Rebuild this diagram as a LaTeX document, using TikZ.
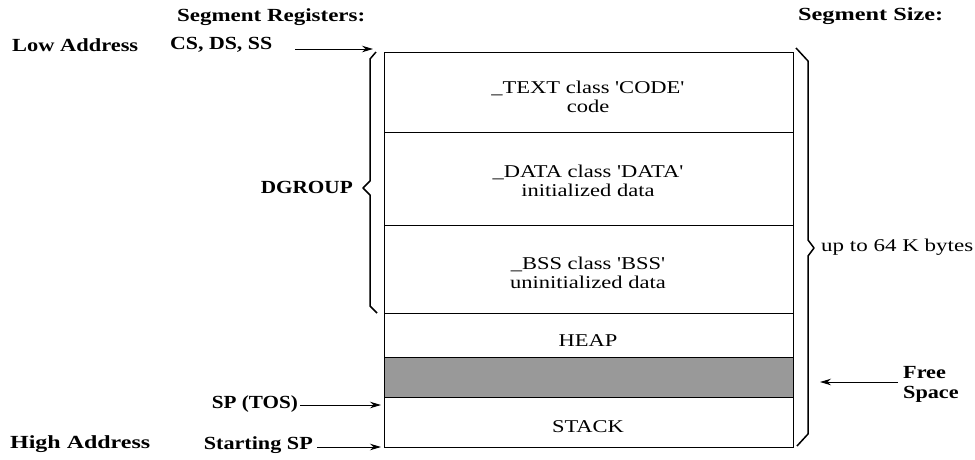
\documentclass[tikz,border=0pt]{standalone}
\usepackage{fontspec}
\setmainfont{Liberation Serif}
\usetikzlibrary{arrows.meta}
\newcommand{\fitw}[2]{\resizebox{#1}{\height}{#2}}
\newcommand{\sxr}[1]{\scalebox{1.25}[1]{#1}}
\begin{document}
\begin{tikzpicture}[x=1pt,y=-1pt,
  lbl/.style={font=\fontsize{18.5}{20}\selectfont\bfseries, inner sep=0pt},
  txt/.style={font=\fontsize{18}{19}\selectfont, inner sep=0pt},
  seg/.style={draw, line width=1.2pt, rectangle, minimum width=409pt, anchor=north west, inner sep=0pt},
  arr/.style={line width=1pt, -{Stealth[length=11pt,width=6.5pt]}},
  brace/.style={line width=1.5pt, line join=round}]
\useasboundingbox (0,0) rectangle (975,459);
% segments
\node[seg, minimum height=80pt] (code) at (384,52) {};
\node[seg, minimum height=93pt] (data) at (384,132) {};
\node[seg, minimum height=88pt] (bss) at (384,225) {};
\node[seg, minimum height=44pt] (heap) at (384,313) {};
\node[seg, minimum height=40pt, fill=black!40] (free) at (384,357) {};
\node[seg, minimum height=50pt] (stack) at (384,397) {};
% segment texts
\node[txt] (tcode) at (588,99) {\sxr{\begin{tabular}{@{}c@{}}\_TEXT class \textquotesingle CODE\textquotesingle\\code\end{tabular}}};
\node[txt] (tdata) at (588,183) {\sxr{\begin{tabular}{@{}c@{}}\_DATA class \textquotesingle DATA\textquotesingle\\initialized data\end{tabular}}};
\node[txt] (tbss) at (588,275) {\sxr{\begin{tabular}{@{}c@{}}\_BSS class \textquotesingle BSS\textquotesingle\\uninitialized data\end{tabular}}};
\node[txt] (theap) at (588,341) {\sxr{HEAP}};
\node[txt] (tstack) at (588,427) {\sxr{STACK}};
% labels
\node[lbl, anchor=west] (segreg) at (177,17) {\fitw{188pt}{Segment Registers:}};
\node[lbl, anchor=west] (low) at (12,45) {\fitw{126pt}{Low Address}};
\node[lbl, anchor=west] (csds) at (170,45) {\fitw{102pt}{CS, DS, SS}};
\node[lbl, anchor=east] (dgroup) at (353,187) {\fitw{92pt}{DGROUP}};
\node[lbl, anchor=east] (sptos) at (298,404) {\fitw{86pt}{SP (TOS)}};
\node[lbl, anchor=west] (high) at (10,444) {\fitw{140pt}{High Address}};
\node[lbl, anchor=east] (startsp) at (313,445) {\fitw{109pt}{Starting SP}};
\node[lbl, anchor=west] (segsize) at (798,16) {\fitw{145pt}{Segment Size:}};
\node[txt, anchor=west] (upto) at (821,247) {\fitw{152pt}{up to 64 K bytes}};
\node[lbl, anchor=west] (freesp) at (903,384) {\scalebox{1.2}[1]{\begin{tabular}{@{}l@{}}Free\\Space\end{tabular}}};
% arrow ends
\coordinate (csS) at (295,49);
\coordinate (csT) at (373,49);
\coordinate (spS) at (300,405);
\coordinate (spT) at (381,405);
\coordinate (stS) at (317,447);
\coordinate (stT) at (381,447);
\coordinate (frS) at (898,382);
\coordinate (frT) at (820,382);
\draw[arr] (csS) -- (csT);
\draw[arr] (spS) -- (spT);
\draw[arr] (stS) -- (stT);
\draw[arr] (frS) -- (frT);
% braces
\draw[brace] (376,52) -- (370,59) -- (370,181) -- (363,188) -- (370,195) -- (370,306) -- (377,313);
\draw[brace] (796,48) -- (808,61) -- (808,240) -- (814,248) -- (808,256) -- (808,434) -- (797,446);
\end{tikzpicture}
\end{document}
